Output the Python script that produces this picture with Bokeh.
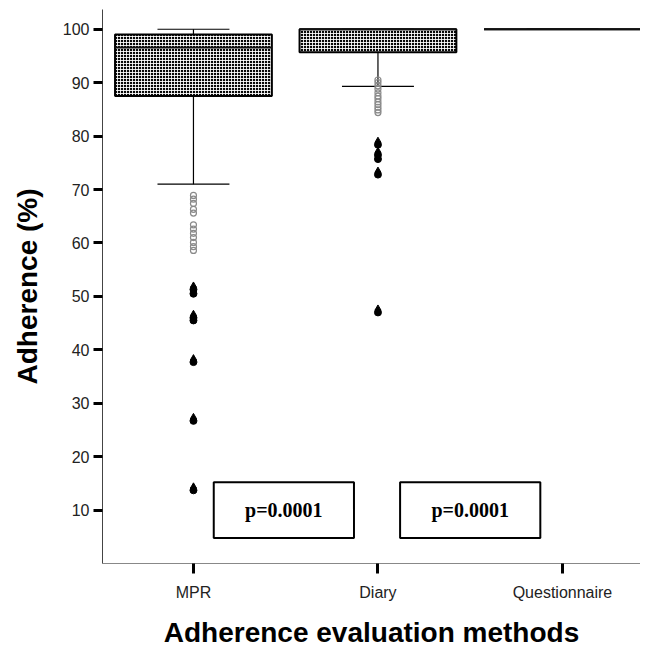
from bokeh.plotting import figure
from bokeh.models import FixedTicker, Range1d, ColumnDataSource
from bokeh.core.properties import value
from bokeh.embed import file_html
from bokeh.resources import INLINE

# ---------------- data ----------------
categories = ["MPR", "Diary", "Questionnaire"]
x_pos = [1, 2, 3]
q1 = [87.5, 95.7, 100.0]
median = [96.6, 100.0, 100.0]
q3 = [99.0, 100.0, 100.0]
whisker_low = [71.0, 89.3, 100.0]
whisker_high = [100.0, 100.0, 100.0]

mpr_mild = [68.9, 68.2, 67.4, 66.3, 65.6, 63.4, 62.6, 61.8, 61.0, 60.1, 59.3, 58.6]
mpr_extreme = [51.6, 50.8, 46.3, 45.8, 38.0, 27.0, 14.0]
diary_mild = [90.5, 90.0, 89.4, 88.8, 88.1, 87.5, 87.0, 86.4, 85.9, 85.4, 84.9, 84.4]
diary_extreme = [78.7, 76.8, 76.0, 73.1, 47.3]

p_labels = ["p=0.0001", "p=0.0001"]
y_ticks = [10, 20, 30, 40, 50, 60, 70, 80, 90, 100]

# ---------------- figure ----------------
p = figure(frame_width=538, frame_height=554,
           x_range=Range1d(0.507, 3.423), y_range=Range1d(0, 103.7),
           output_backend="svg", toolbar_location=None,
           min_border_left=102, min_border_top=9, min_border_right=0,
           min_border_bottom=82)
p.outline_line_color = None
p.xgrid.visible = False
p.ygrid.visible = False
p.background_fill_color = "white"

box_w = 0.85
cap_w = 0.39

src = ColumnDataSource(dict(x=x_pos, q1=q1, med=median, q3=q3,
                            lo=whisker_low, hi=whisker_high))

# whiskers
p.segment(x0="x", y0="q3", x1="x", y1="hi", source=src, line_color="black", line_width=1.2)
p.segment(x0="x", y0="q1", x1="x", y1="lo", source=src, line_color="black", line_width=1.2)
cap_l = [x - cap_w / 2 for x in x_pos]
cap_r = [x + cap_w / 2 for x in x_pos]
p.segment(x0=cap_l, y0=whisker_high, x1=cap_r, y1=whisker_high, line_color="black", line_width=1.2)
p.segment(x0=cap_l, y0=whisker_low, x1=cap_r, y1=whisker_low, line_color="black", line_width=1.2)

# boxes
p.vbar(x="x", width=box_w, top="q3", bottom="q1", source=src,
       fill_color="white", line_color="black", line_width=2,
       hatch_pattern="ring", hatch_color="black", hatch_scale=3, hatch_weight=1.1)
med_l = [x - box_w / 2 for x in x_pos]
med_r = [x + box_w / 2 for x in x_pos]
p.segment(x0=med_l, y0=median, x1=med_r, y1=median, line_color="#111111", line_width=2)

# mild outliers (open circles)
p.scatter([1] * len(mpr_mild), mpr_mild, marker="circle", size=6,
          fill_color=None, line_color="#8a8a8a", line_width=1.2)
p.scatter([2] * len(diary_mild), diary_mild, marker="circle", size=6,
          fill_color=None, line_color="#8a8a8a", line_width=1.2)

# extreme outliers (teardrop: circle + triangle)
for xc, vals in ((1, mpr_extreme), (2, diary_extreme)):
    p.scatter([xc] * len(vals), [v - 0.3 for v in vals], marker="circle", size=7,
              fill_color="black", line_color="black")
    p.scatter([xc] * len(vals), [v + 0.45 for v in vals], marker="triangle", size=6,
              fill_color="black", line_color="black")

# p-value boxes
pbox_x = [1.49, 2.5]
pbox_w = 0.76
p.quad(left=[x - pbox_w / 2 for x in pbox_x], right=[x + pbox_w / 2 for x in pbox_x],
       bottom=[4.75] * 2, top=[15.2] * 2,
       fill_color="white", line_color="black", line_width=2)
p.text(x=pbox_x, y=[10.0] * 2, text=p_labels, text_align="center", text_baseline="middle",
       text_font=value("Liberation Serif"), text_font_style="bold",
       text_font_size="20px", text_color="black")

# axes
p.xaxis.ticker = FixedTicker(ticks=x_pos)
p.xaxis.major_label_overrides = {x: c for x, c in zip(x_pos, categories)}
p.yaxis.ticker = FixedTicker(ticks=y_ticks)
for ax in (p.xaxis[0], p.yaxis[0]):
    ax.minor_tick_line_color = None
    ax.major_tick_in = 0
    ax.major_tick_line_width = 3
    ax.major_tick_line_color = "black"
    ax.major_label_text_font = "Liberation Sans"
    ax.major_label_text_font_size = "16px"
    ax.major_label_text_color = "#222222"
    ax.axis_label_text_font = "Liberation Sans"
    ax.axis_label_text_font_style = "bold"
    ax.axis_label_text_font_size = "28px"
    ax.axis_label_text_color = "black"

p.yaxis.major_tick_out = 9
p.yaxis.major_label_standoff = 4
p.yaxis.axis_line_color = "#444444"
p.yaxis.axis_label = "Adherence (%)"
p.yaxis.axis_label_standoff = 17

p.xaxis.major_tick_out = 10
p.xaxis.major_label_standoff = 10
p.xaxis.axis_line_color = "#888888"
p.xaxis.axis_label = "Adherence evaluation methods"
p.xaxis.axis_label_standoff = 13

open("out.html", "w").write(file_html(p, INLINE))
